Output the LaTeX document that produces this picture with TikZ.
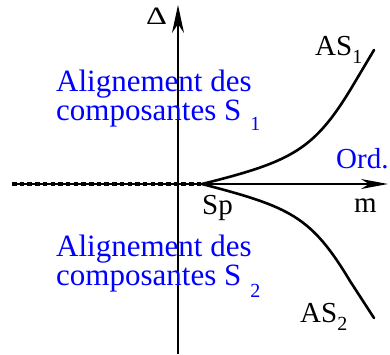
\documentclass[tikz,border=0pt]{standalone}
\usepackage{fontspec}
\setmainfont{Liberation Serif}
\usetikzlibrary{arrows.meta}
\definecolor{txtblue}{RGB}{0,0,255}
\begin{document}
\begin{tikzpicture}[x=1pt,y=-1pt,
  lbl/.style={inner sep=0pt, font=\fontsize{29}{26}\selectfont},
  bluelbl/.style={inner sep=0pt, font=\fontsize{31}{26}\selectfont, text=txtblue, align=left},
  axisline/.style={line width=1.4pt},
  branch/.style={line width=2.6pt, line cap=round, line join=round},
  tipv/.style={-{Stealth[length=28pt,width=12pt,inset=9pt]}},
  tiph/.style={-{Stealth[length=27pt,width=10pt,inset=8pt]}},
  dotted axis/.style={line width=4.5pt, dash pattern=on 4.5pt off 3.2pt},
]
\useasboundingbox (0,0) rectangle (390,354);
% coordinates
\coordinate (vbot) at (178,354);
\coordinate (vtop) at (178,5);
\coordinate (hleft) at (12,184);
\coordinate (sp) at (202,184);
\coordinate (hright) at (388,184);
\coordinate (as1mid) at (352,87);
\coordinate (as1end) at (374,50);
\coordinate (as2mid) at (350,281);
\coordinate (as2end) at (374,318);
% axes
\draw[axisline, tipv] (vbot) -- (vtop);
\draw[axisline] (hleft) -- (sp);
\draw[dotted axis] (hleft) -- (sp);
\draw[axisline, tiph] (sp) -- (hright);
% branches
\draw[branch] (sp) .. controls (292,161.5) and (314,150) .. (as1mid) -- (as1end);
\draw[branch] (sp) .. controls (290,207) and (311,216) .. (as2mid) -- (as2end);
% labels
\node[lbl, anchor=base west, font=\fontsize{25}{25}\selectfont] (delta) at (146,24.5) {\scalebox{1.3}[1]{Δ}};
\node[lbl, anchor=base west] (as1) at (315,55) {AS\raisebox{-8pt}{\fontsize{20}{20}\selectfont 1}};
\node[lbl, anchor=base west] (as2) at (300,322) {AS\raisebox{-8pt}{\fontsize{20}{20}\selectfont 2}};
\node[lbl, anchor=base west] (splbl) at (202,214) {Sp};
\node[lbl, anchor=base west] (mlbl) at (354,212) {m};
\node[lbl, anchor=base west, text=txtblue] (ord) at (336,168) {Ord.};
\node[bluelbl, anchor=base west] (s1) at (56,120) {Alignement des\\composantes S\hspace{9pt}\raisebox{-10pt}{\fontsize{20}{20}\selectfont 1}};
\node[bluelbl, anchor=base west] (s2) at (56,285) {Alignement des\\composantes S\hspace{9pt}\raisebox{-12pt}{\fontsize{20}{20}\selectfont 2}};
\end{tikzpicture}
\end{document}
